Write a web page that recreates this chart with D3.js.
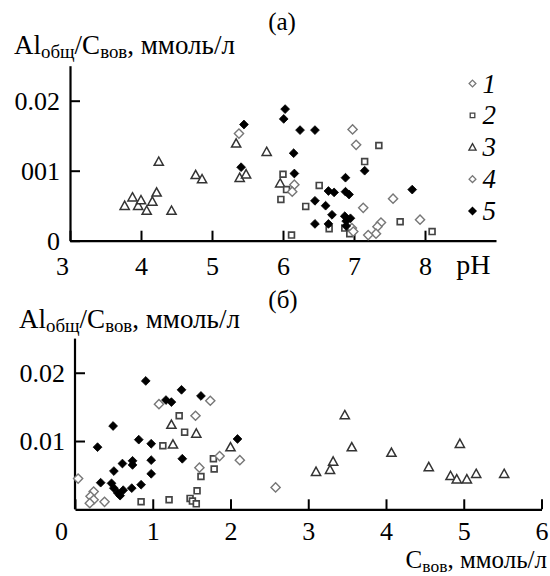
<!DOCTYPE html>
<html>
<head>
<meta charset="utf-8">
<script src="https://cdn.jsdelivr.net/npm/d3@7"></script>
<style>
  body { margin: 0; background: #fff; }
  svg text { font-family: "Liberation Serif", "Times New Roman", serif; fill: #000; }
</style>
</head>
<body>
<div id="chart"></div>
<script>
// ---- data, panel (а): pH vs Al/C ----
const a1 = [[5.38, 0.0153], [6.16, 0.0080], [6.13, 0.0070], [6.98, 0.0159], [7.03, 0.0137], [7.13, 0.0047]];
const a4 = [[7.55, 0.0060], [7.93, 0.0030], [7.38, 0.0026], [7.33, 0.0020], [7.31, 0.0010], [7.20, 0.0008], [6.97, 0.0018], [6.99, 0.0013]];
const a2 = [[6.00, 0.0095], [5.97, 0.0059], [6.05, 0.0073], [6.32, 0.0049], [6.51, 0.0079], [6.12, 0.0008], [6.65, 0.0017],
  [6.87, 0.0018], [6.94, 0.0010], [7.35, 0.0136], [7.15, 0.0113], [7.65, 0.0027], [8.10, 0.0013]];
const a3 = [[3.77, 0.0050], [3.88, 0.0062], [3.96, 0.0050], [4.00, 0.0058], [4.08, 0.0043], [4.16, 0.0056], [4.22, 0.0069],
  [4.43, 0.0043], [4.25, 0.0113], [4.77, 0.0094], [4.86, 0.0088], [5.34, 0.0139], [5.39, 0.0090], [5.48, 0.0095],
  [5.77, 0.0127], [5.96, 0.0082]];
const a5 = [[5.45, 0.0166], [6.03, 0.0188], [6.01, 0.0174], [6.24, 0.0158], [6.45, 0.0158], [6.15, 0.0125], [6.16, 0.0096],
  [5.41, 0.0105], [6.88, 0.0090], [7.15, 0.0100], [6.64, 0.0071], [6.72, 0.0069], [6.88, 0.0070], [6.93, 0.0066],
  [6.45, 0.0057], [6.60, 0.0050], [6.69, 0.0037], [6.87, 0.0035], [6.95, 0.0032], [6.89, 0.0028], [6.45, 0.0024],
  [6.64, 0.0024], [6.89, 0.0021], [7.82, 0.0073]];

// ---- data, panel (б): C vs Al/C ----
const b1 = [[1.08, 0.0154], [1.74, 0.0159], [1.55, 0.0137], [1.86, 0.0078], [2.12, 0.0072], [1.60, 0.0061]];
const b4 = [[0.04, 0.0045], [2.58, 0.0032], [0.24, 0.0026], [0.20, 0.0019], [0.24, 0.0014], [0.38, 0.0011], [0.19, 0.0009]];
const b2 = [[1.34, 0.0137], [1.41, 0.0113], [1.13, 0.0093], [1.78, 0.0074], [1.79, 0.0059], [1.62, 0.0048], [1.57, 0.0027],
  [0.85, 0.0011], [1.21, 0.0014], [1.48, 0.0016], [1.51, 0.0012], [1.56, 0.0008]];
const b3 = [[1.24, 0.0124], [1.26, 0.0095], [1.56, 0.0111], [2.00, 0.0091], [3.47, 0.0138], [3.56, 0.0091], [4.07, 0.0083],
  [3.32, 0.0070], [3.10, 0.0055], [3.28, 0.0058], [4.55, 0.0062], [4.95, 0.0096], [4.83, 0.0049], [4.91, 0.0044],
  [5.04, 0.0044], [5.16, 0.0052], [5.52, 0.0052]];
const b5 = [[0.91, 0.0188], [1.37, 0.0175], [1.17, 0.0160], [1.24, 0.0157], [1.62, 0.0166], [0.49, 0.0122], [0.29, 0.0091],
  [0.82, 0.0102], [0.98, 0.0096], [1.38, 0.0074], [0.98, 0.0072], [0.98, 0.0052], [2.09, 0.0103], [0.61, 0.0067],
  [0.74, 0.0071], [0.74, 0.0065], [0.50, 0.0056], [0.33, 0.0039], [0.47, 0.0038], [0.50, 0.0031], [0.55, 0.0024],
  [0.62, 0.0028], [0.58, 0.0020], [0.73, 0.0031], [0.85, 0.0036]];

// ---- ticks / labels ----
const xTicksA = [3, 4, 5, 6, 7, 8];
const yTicksA = [0, 0.01, 0.02];
const yLabelsA = ['0', '001', '0.02'];
const xTicksB = [0, 1, 2, 3, 4, 5, 6];
const yTicksB = [0.01, 0.02];
const yLabelsB = ['0.01', '0.02'];
const legendLabels = ['1', '2', '3', '4', '5'];
const legendKinds = ['open', 'square', 'tri', 'open', 'filled'];

const width = 550;
const height = 576;

const svg = d3.select('#chart').append('svg')
  .attr('width', width)
  .attr('height', height);

// marker shapes
function shape(kind, s) {
  if (kind === 'open' || kind === 'filled') {
    return `M0,${-s}L${s},0L0,${s}L${-s},0Z`;
  }
  if (kind === 'square') {
    return `M${-s},${-s}H${s}V${s}H${-s}Z`;
  }
  // triangle
  return `M0,${-s}L${s},${s * 0.8}L${-s},${s * 0.8}Z`;
}
const style = {
  open: { fill: '#fff', stroke: '#777', sw: 1.4, size: 4.6, legend: 3.4 },
  square: { fill: '#fff', stroke: '#444', sw: 1.7, size: 2.9, legend: 2.3 },
  tri: { fill: '#fff', stroke: '#333', sw: 1.5, size: 4.6, legend: 3.6 },
  filled: { fill: '#000', stroke: '#000', sw: 0.8, size: 4.4, legend: 3.6 }
};

function drawPoints(g, data, kind, x, y) {
  const st = style[kind];
  g.append('g').selectAll('path')
    .data(data)
    .enter()
    .append('path')
    .attr('d', shape(kind, st.size))
    .attr('transform', (d) => `translate(${x(d[0])},${y(d[1])})`)
    .attr('fill', st.fill)
    .attr('stroke', st.stroke)
    .attr('stroke-width', st.sw);
}

function styleAxis(g) {
  g.selectAll('path.domain').attr('stroke', '#000').attr('stroke-width', 2.2);
  g.selectAll('.tick line').attr('stroke', '#000').attr('stroke-width', 2);
  g.selectAll('.tick text').attr('font-family', 'Liberation Serif').attr('font-size', 26);
}

// axis title with subscripts
function subTitle(x0, y0, parts, size, anchor) {
  const t = svg.append('text').attr('x', x0).attr('y', y0).attr('font-size', size)
    .attr('text-anchor', anchor || 'start');
  const shift = Math.round(size * 0.16);
  parts.forEach(([txt, sub], i) => {
    const s = t.append('tspan').text(txt);
    if (sub) s.attr('font-size', size * 0.7).attr('dy', shift);
    else if (i > 0) s.attr('dy', -shift);
  });
  return t;
}
const yTitleParts = [['Al', false], ['общ', true], ['/C', false], ['вов', true], [', ммоль/л', false]];
const xTitleParts = [['C', false], ['вов', true], [', ммоль/л', false]];

// ================= panel (а) =================
const xA = d3.scaleLinear().domain([3, 9]).range([70, 496]);
const yA = d3.scaleLinear().domain([0, 0.025]).range([240.7, 65.7]);

const gA = svg.append('g').attr('class', 'panel-a');

const xAxisA = gA.append('g')
  .attr('transform', `translate(0,${yA(0)})`)
  .call(d3.axisBottom(xA).tickValues(xTicksA).tickSizeInner(-10).tickSizeOuter(0).tickPadding(15.5)
    .tickFormat(d3.format('d')));
styleAxis(xAxisA);
xAxisA.selectAll('.tick text').filter((d) => d === 3).attr('dx', -8);

const yAxisA = gA.append('g')
  .attr('transform', `translate(${xA(3)},0)`)
  .call(d3.axisLeft(yA).tickValues(yTicksA).tickSizeInner(-10).tickSizeOuter(0).tickPadding(10)
    .tickFormat((d, i) => yLabelsA[i]));
styleAxis(yAxisA);

gA.append('text')
  .attr('x', xA(8.68))
  .attr('y', yA(0) + 33.5)
  .attr('text-anchor', 'middle')
  .attr('font-size', 28)
  .text('pH');

svg.append('text')
  .attr('x', 282).attr('y', 30)
  .attr('text-anchor', 'middle')
  .attr('font-size', 25)
  .text('(а)');
subTitle(14, 54, yTitleParts, 27);

drawPoints(gA, a3, 'tri', xA, yA);
drawPoints(gA, a2, 'square', xA, yA);
drawPoints(gA, a1, 'open', xA, yA);
drawPoints(gA, a4, 'open', xA, yA);
drawPoints(gA, a5, 'filled', xA, yA);

// legend
const legendY = d3.scalePoint().domain(legendLabels).range([83.5, 211]);
const legend = gA.append('g').attr('class', 'legend');
legendLabels.forEach((lab, i) => {
  const kind = legendKinds[i];
  const st = style[kind];
  const lg = legend.append('g').attr('transform', `translate(472.5,${legendY(lab)})`);
  lg.append('path')
    .attr('d', shape(kind, st.legend))
    .attr('fill', st.fill)
    .attr('stroke', st.stroke)
    .attr('stroke-width', 1.3);
  lg.append('text')
    .attr('x', 10)
    .attr('y', 9)
    .attr('font-size', 27)
    .attr('font-style', 'italic')
    .text(lab);
});

// ================= panel (б) =================
const xB = d3.scaleLinear().domain([0, 6]).range([75, 541.5]);
const yB = d3.scaleLinear().domain([0, 0.025]).range([509.3, 338.6]);

const gB = svg.append('g').attr('class', 'panel-b');

const xAxisB = gB.append('g')
  .attr('transform', `translate(0,${yB(0)})`)
  .call(d3.axisBottom(xB).tickValues(xTicksB).tickSizeInner(-10).tickSizeOuter(0).tickPadding(12)
    .tickFormat(d3.format('d')));
styleAxis(xAxisB);
xAxisB.selectAll('.tick text').filter((d) => d === 0).attr('dx', -14);

const yAxisB = gB.append('g')
  .attr('transform', `translate(${xB(0)},0)`)
  .call(d3.axisLeft(yB).tickValues(yTicksB).tickSizeInner(-10).tickSizeOuter(0).tickPadding(10)
    .tickFormat((d, i) => yLabelsB[i]));
styleAxis(yAxisB);
// y axis line runs up to the top of the domain
yAxisB.select('path.domain').attr('d', `M0,${yB(0)}V${yB(0.025)}`);

svg.append('text')
  .attr('x', 283).attr('y', 308)
  .attr('text-anchor', 'middle')
  .attr('font-size', 25)
  .text('(б)');
subTitle(19, 328, yTitleParts, 27);
subTitle(547, 568, xTitleParts, 25, 'end');

drawPoints(gB, b3, 'tri', xB, yB);
drawPoints(gB, b2, 'square', xB, yB);
drawPoints(gB, b1, 'open', xB, yB);
drawPoints(gB, b4, 'open', xB, yB);
drawPoints(gB, b5, 'filled', xB, yB);
</script>
</body>
</html>
